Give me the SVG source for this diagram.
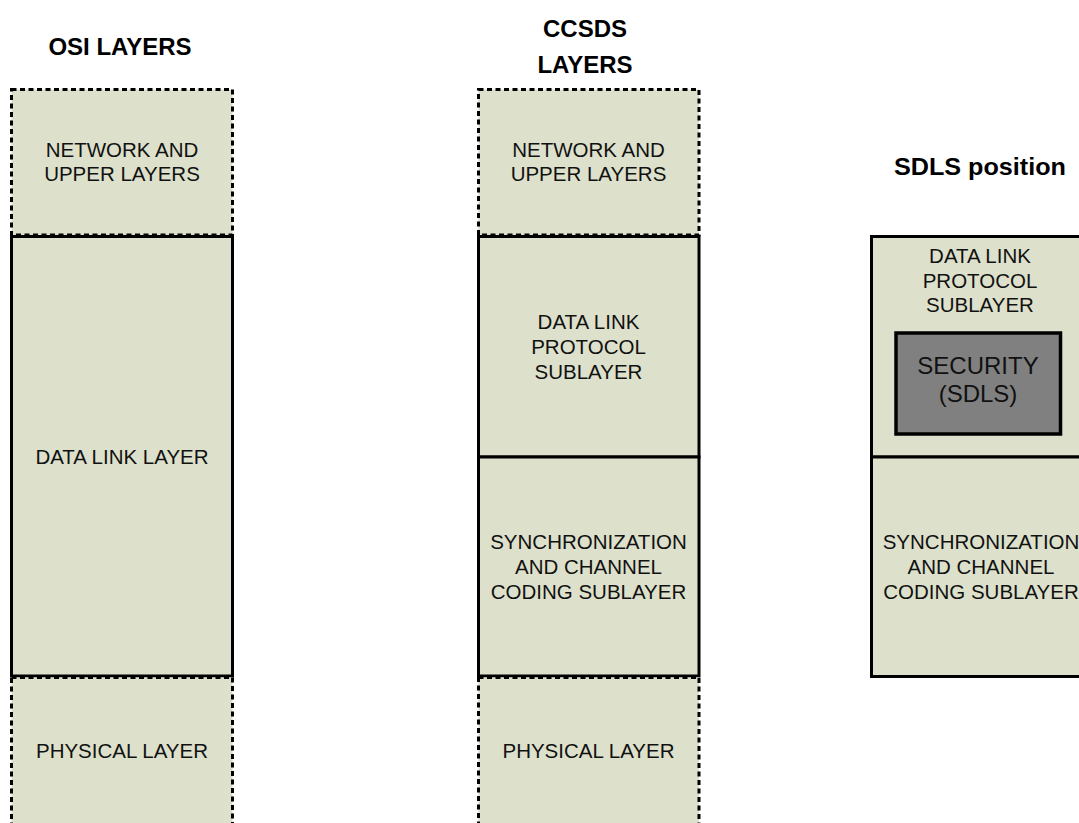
<svg xmlns="http://www.w3.org/2000/svg" width="1079" height="823" viewBox="0 0 1079 823">
<style>
.box{fill:#DDE1CC;stroke:#000;stroke-width:3}
.dash{fill:#DDE1CC;stroke:#000;stroke-width:3;stroke-dasharray:5 3.5;stroke-linecap:butt}
.sec{fill:#808080;stroke:#000;stroke-width:3.5}
.t{font-family:"Liberation Sans",Arial,sans-serif;font-size:20.5px;fill:#111;text-anchor:middle}
.ts{font-family:"Liberation Sans",Arial,sans-serif;font-size:24px;fill:#111;text-anchor:middle}
.h{font-family:"Liberation Sans",Arial,sans-serif;font-size:24px;font-weight:bold;fill:#000;text-anchor:middle}
</style>
<rect width="1079" height="823" fill="#fff"/>
<g id="titles">
<text class="h" x="120" y="55">OSI LAYERS</text>
<text class="h" x="585" y="37">CCSDS</text>
<text class="h" x="585" y="73">LAYERS</text>
<text class="h" x="980" y="175" textLength="172" lengthAdjust="spacingAndGlyphs">SDLS position</text>
</g>
<g id="osi-datalink">
<rect class="box" x="11.5" y="236.5" width="221" height="439.5"/>
<text class="t" x="122" y="463.5">DATA LINK LAYER</text>
</g>
<g id="osi-network">
<rect class="dash" x="11.5" y="89.5" width="221" height="145.5"/>
<text class="t" x="122" y="157">NETWORK AND</text>
<text class="t" x="122" y="181">UPPER LAYERS</text>
</g>
<g id="osi-physical">
<rect class="dash" x="11.5" y="677.5" width="221" height="160"/>
<text class="t" x="122" y="757.5">PHYSICAL LAYER</text>
</g>
<g id="ccsds-dlp">
<rect class="box" x="478.5" y="236.5" width="220.5" height="220.5"/>
<text class="t" x="588.5" y="329">DATA LINK</text>
<text class="t" x="588.5" y="354">PROTOCOL</text>
<text class="t" x="588.5" y="379">SUBLAYER</text>
</g>
<g id="ccsds-sync">
<rect class="box" x="478.5" y="457" width="220.5" height="219"/>
<text class="t" x="588.5" y="549">SYNCHRONIZATION</text>
<text class="t" x="588.5" y="574">AND CHANNEL</text>
<text class="t" x="588.5" y="599">CODING SUBLAYER</text>
</g>
<g id="ccsds-network">
<rect class="dash" x="478.5" y="89.5" width="220.5" height="145.5"/>
<text class="t" x="588.5" y="157">NETWORK AND</text>
<text class="t" x="588.5" y="181">UPPER LAYERS</text>
</g>
<g id="ccsds-physical">
<rect class="dash" x="478.5" y="677.5" width="220.5" height="160"/>
<text class="t" x="588.5" y="757.5">PHYSICAL LAYER</text>
</g>
<g id="sdls-dlp">
<rect class="box" x="871.5" y="236.5" width="222" height="220.5"/>
<text class="t" x="980" y="263">DATA LINK</text>
<text class="t" x="980" y="288">PROTOCOL</text>
<text class="t" x="980" y="312">SUBLAYER</text>
</g>
<g id="sdls-security">
<rect class="sec" x="896" y="333" width="164.5" height="101"/>
<text class="ts" x="978" y="374">SECURITY</text>
<text class="ts" x="978" y="402">(SDLS)</text>
</g>
<g id="sdls-sync">
<rect class="box" x="871.5" y="457" width="222" height="219.5"/>
<text class="t" x="981" y="549">SYNCHRONIZATION</text>
<text class="t" x="981" y="574">AND CHANNEL</text>
<text class="t" x="981" y="599">CODING SUBLAYER</text>
</g>
<g id="connectors"></g>
</svg>
